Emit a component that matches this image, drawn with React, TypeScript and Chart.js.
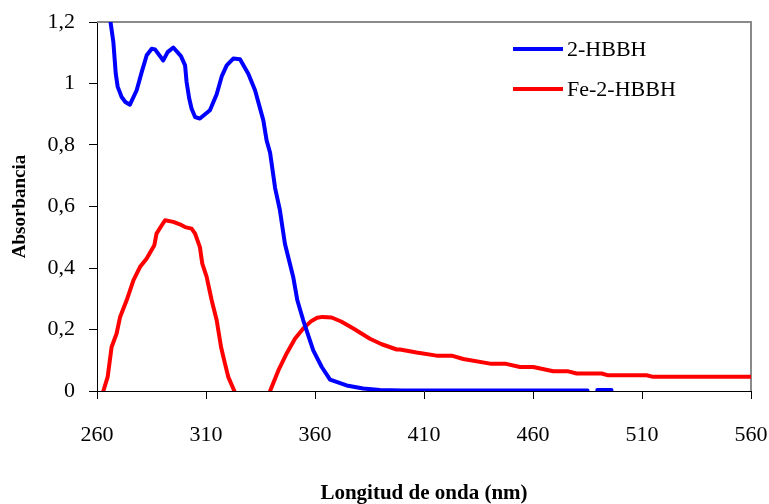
import { useEffect, useRef } from "react";
import { Chart, registerables } from "chart.js";

Chart.register(...registerables);

// Wavelength (nm) and absorbance of 2-HBBH
const wavelengthHBBH = [
  264, 266, 267.5, 268.6, 269.5, 271.3, 273, 275.1, 278.2, 280.5, 282.8, 285.1,
  286.6, 290.4, 292.4, 295, 298.5, 300.4, 301.1, 302.3, 303.4, 305, 307.2,
  311.8, 314.9, 317.2, 319.5, 322.5, 325.6, 329.4, 332.5, 336.3, 337.8, 339.4,
  341.7, 343.9, 346.2, 350, 351.9, 354.6, 359.2, 363.1, 366.9, 374.5, 382.1,
  389.8, 400, 420, 450, 485, 487, 489.5, 496,
];
const absorbanceHBBH = [
  1.38, 1.21, 1.135, 1.032, 0.989, 0.956, 0.94, 0.931, 0.978, 1.037, 1.092,
  1.113, 1.111, 1.075, 1.102, 1.117, 1.089, 1.059, 1.005, 0.951, 0.918, 0.891,
  0.886, 0.913, 0.965, 1.023, 1.059, 1.081, 1.079, 1.032, 0.978, 0.88, 0.815,
  0.775, 0.66, 0.588, 0.479, 0.371, 0.295, 0.23, 0.132, 0.078, 0.037, 0.018,
  0.008, 0.003, 0.002, 0.002, 0.002, 0.002, null, 0.003, 0.003,
];

// Wavelength (nm) and absorbance of Fe-2-HBBH
const wavelengthFe = [
  262.9, 264.9, 266.7, 269, 270.6, 273.6, 276.7, 279.7, 282.8, 286.3, 287.3,
  289.7, 291.2, 295, 298, 300.4, 303.4, 305, 307.2, 308.3, 310.3, 312.6, 314.9,
  316.9, 318.7, 320.2, 323, 331, 339.4, 343.2, 347, 350.8, 354.6, 358.4, 361,
  363.5, 367.6, 372, 377.6, 385.2, 390.6, 397.5, 399, 406.6, 415.8, 422.7, 428,
  440.3, 447.2, 454, 460.1, 469.3, 476.2, 480, 491.5, 494.5, 512.1, 515.1, 560,
];
const absorbanceFe = [
  0, 0.046, 0.143, 0.187, 0.241, 0.295, 0.36, 0.403, 0.431, 0.474, 0.512,
  0.539, 0.555, 0.55, 0.542, 0.533, 0.528, 0.512, 0.468, 0.414, 0.371, 0.295,
  0.23, 0.143, 0.089, 0.046, 0, null, 0, 0.067, 0.122, 0.17, 0.203, 0.228,
  0.238, 0.241, 0.239, 0.226, 0.203, 0.17, 0.152, 0.135, 0.135, 0.125, 0.115,
  0.115, 0.104, 0.089, 0.089, 0.078, 0.078, 0.064, 0.064, 0.057, 0.057, 0.051,
  0.051, 0.046, 0.046,
];

const seriesLabels = ["2-HBBH", "Fe-2-HBBH"];
const seriesColors = ["#0000FF", "#FF0000"];
const xTickValues = [260, 310, 360, 410, 460, 510, 560];
const yTickValues = [0, 0.2, 0.4, 0.6, 0.8, 1, 1.2];
const xTitle = "Longitud de onda (nm)";
const yTitle = "Absorbancia";

const FONT = "'Liberation Serif', 'Times New Roman', serif";

const toPoints = (xs: number[], ys: (number | null)[]) =>
  xs.map((x, i) => ({ x, y: ys[i] }));

const frameBorder = {
  id: "frameBorder",
  beforeDatasetsDraw(chart: any) {
    const { ctx, chartArea } = chart;
    ctx.save();
    ctx.strokeStyle = "#8a8a8a";
    ctx.lineWidth = 2;
    ctx.beginPath();
    ctx.moveTo(chartArea.left, chartArea.top);
    ctx.lineTo(chartArea.right, chartArea.top);
    ctx.lineTo(chartArea.right, chartArea.bottom);
    ctx.stroke();
    ctx.restore();
  },
};

const innerLegend = {
  id: "innerLegend",
  afterDatasetsDraw(chart: any) {
    const { ctx, chartArea } = chart;
    ctx.save();
    chart.data.datasets.forEach((ds: any, i: number) => {
      const y = chartArea.top + 27 + i * 40;
      const x0 = chartArea.right - 238;
      ctx.strokeStyle = ds.borderColor;
      ctx.lineWidth = 4;
      ctx.beginPath();
      ctx.moveTo(x0, y);
      ctx.lineTo(x0 + 50, y);
      ctx.stroke();
      ctx.fillStyle = "#000";
      ctx.font = `22px ${FONT}`;
      ctx.textAlign = "left";
      ctx.textBaseline = "alphabetic";
      ctx.fillText(ds.label, x0 + 54, y + 7);
    });
    ctx.restore();
  },
};

export default function App() {
  const canvasRef = useRef<HTMLCanvasElement | null>(null);

  useEffect(() => {
    if (!canvasRef.current) return;
    Chart.defaults.font.family = FONT;
    Chart.defaults.color = "#000";
    const chart = new Chart(canvasRef.current, {
      type: "line",
      data: {
        datasets: [
          {
            label: seriesLabels[0],
            data: toPoints(wavelengthHBBH, absorbanceHBBH),
            borderColor: seriesColors[0],
            backgroundColor: seriesColors[0],
            borderWidth: 4,
            pointRadius: 0,
            tension: 0,
            borderJoinStyle: "round",
            borderCapStyle: "round",
            spanGaps: false,
          },
          {
            label: seriesLabels[1],
            data: toPoints(wavelengthFe, absorbanceFe),
            borderColor: seriesColors[1],
            backgroundColor: seriesColors[1],
            borderWidth: 4,
            pointRadius: 0,
            tension: 0,
            borderJoinStyle: "round",
            borderCapStyle: "round",
            spanGaps: false,
          },
        ],
      },
      options: {
        animation: false,
        responsive: true,
        maintainAspectRatio: false,
        layout: { padding: { top: 22, right: 18, left: 0, bottom: 0 } },
        plugins: {
          legend: { display: false },
          tooltip: { enabled: false },
        },
        scales: {
          x: {
            type: "linear",
            min: 260,
            max: 560,
            afterBuildTicks: (scale: any) => {
              scale.ticks = xTickValues.map((v) => ({ value: v }));
            },
            afterFit: (scale: any) => {
              scale.height = 113;
              scale.paddingLeft = 0;
              scale.paddingRight = 0;
            },
            grid: {
              drawOnChartArea: false,
              drawTicks: true,
              tickLength: 8,
              color: "#000",
              lineWidth: 1,
            },
            border: { display: true, color: "#000", width: 1 },
            ticks: {
              font: { size: 22 },
              color: "#000",
              padding: 23,
              maxRotation: 0,
              autoSkip: false,
              callback: (v: any) => String(v),
            },
            title: {
              display: true,
              text: xTitle,
              font: { size: 21, weight: "bold", lineHeight: 1.0 },
              color: "#000",
              padding: { top: 0, bottom: 0 },
            },
          },
          y: {
            type: "linear",
            min: 0,
            max: 1.2,
            afterBuildTicks: (scale: any) => {
              scale.ticks = yTickValues.map((v) => ({ value: v }));
            },
            afterFit: (scale: any) => {
              scale.width = 97;
              scale.paddingTop = 0;
              scale.paddingBottom = 0;
            },
            grid: {
              drawOnChartArea: false,
              drawTicks: true,
              tickLength: 8,
              color: "#000",
              lineWidth: 1,
            },
            border: { display: true, color: "#000", width: 1 },
            ticks: {
              font: { size: 22 },
              color: "#000",
              padding: 14,
              autoSkip: false,
              callback: (v: any) =>
                String(parseFloat(Number(v).toFixed(1))).replace(".", ","),
            },
            title: {
              display: true,
              text: yTitle,
              font: { size: 19, weight: "bold", lineHeight: 1.2 },
              color: "#000",
              padding: { top: 9, bottom: 0 },
            },
          },
        },
      },
      plugins: [frameBorder, innerLegend],
    } as any);
    return () => chart.destroy();
  }, []);

  return (
    <div style={{ position: "fixed", left: 0, top: 0, width: 769, height: 504 }}>
      <canvas ref={canvasRef} />
    </div>
  );
}
